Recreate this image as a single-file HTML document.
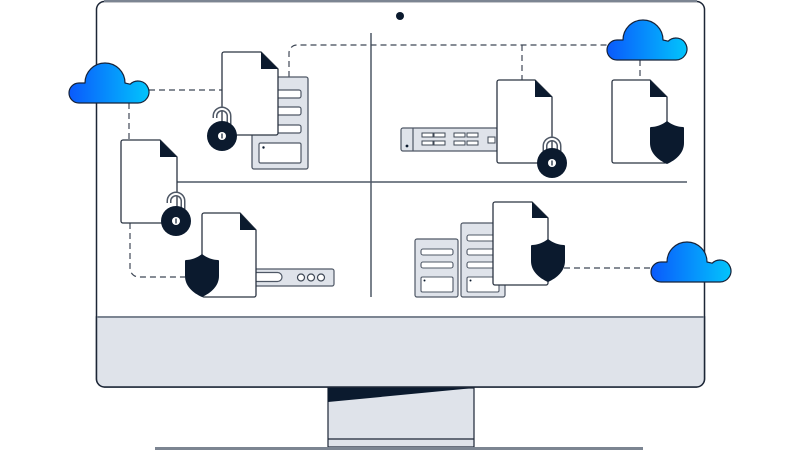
<!DOCTYPE html>
<html><head><meta charset="utf-8"><style>
html,body{margin:0;padding:0;background:#fff;width:800px;height:450px;overflow:hidden}
svg{display:block}
</style></head><body>
<svg width="800" height="450" viewBox="0 0 800 450" xmlns="http://www.w3.org/2000/svg">
<defs>
<linearGradient id="cg" x1="0" y1="0" x2="1" y2="0">
<stop offset="0" stop-color="#0a5afc"/><stop offset="1" stop-color="#02c4fc"/>
</linearGradient>
<path id="cloud" d="M10,41 A10,10 0 0 1 10,21 L16,21 A20,20 0 0 1 56,21 L61.2,22.2 A11,11 0 1 1 69,41 Z"/>
<path id="shield" d="M17,0 C12,4 6,6 1,6 Q0,6 0,7 L0,22 C0,32 8,39 17,43 C26,39 34,32 34,22 L34,7 Q34,6 33,6 C28,6 22,4 17,0 Z"/>
</defs>

<!-- monitor -->
<rect x="96.5" y="1.5" width="608" height="385.5" rx="8" fill="#fff" stroke="#1c2636" stroke-width="1.5"/>
<path d="M96.5,317 H704.5 V379 A8,8 0 0 1 696.5,387 H104.5 A8,8 0 0 1 96.5,379 Z" fill="#dfe3ea" stroke="#1c2636" stroke-width="1.5"/>
<line x1="97" y1="317" x2="704" y2="317" stroke="#7c8592" stroke-width="2"/>
<line x1="104" y1="1" x2="697" y2="1" stroke="#7c8592" stroke-width="2"/>
<circle cx="400" cy="16" r="4" fill="#0b1a2e"/>

<!-- stand -->
<rect x="328" y="388" width="146" height="59" fill="#dfe3ea" stroke="#1c2636" stroke-width="1.2"/>
<polygon points="328,388 474,388 328,402" fill="#0b1a2e"/>
<line x1="328" y1="439" x2="474" y2="439" stroke="#1c2636" stroke-width="1.2"/>
<rect x="155" y="447" width="488" height="3" fill="#7c8592"/>

<!-- dividers -->
<line x1="371" y1="33" x2="371" y2="297" stroke="#4f5866" stroke-width="1.5"/>
<line x1="176" y1="182" x2="687" y2="182" stroke="#4f5866" stroke-width="1.5"/>

<!-- dashed connectors -->
<g fill="none" stroke="#3f4856" stroke-width="1.2" stroke-dasharray="6,4">
<path d="M149,90 H222"/>
<path d="M129,103 V140"/>
<path d="M289,77 V53 A8,8 0 0 1 297,45 H607"/>
<path d="M522,45 V80"/>
<path d="M640,60 V80"/>
<path d="M130,223 V268 A9,9 0 0 0 139,277 H185"/>
<path d="M564,268 H651"/>
</g>

<!-- top-left rack -->
<rect x="252" y="77" width="56" height="92" rx="2" fill="#dfe3ea" stroke="#4f5866" stroke-width="1.3"/>
<g fill="#fff" stroke="#4f5866" stroke-width="1.2">
<rect x="259" y="90" width="42" height="8" rx="2"/>
<rect x="259" y="107" width="42" height="8" rx="2"/>
<rect x="259" y="125" width="42" height="8" rx="2"/>
<rect x="259" y="143" width="42" height="20" rx="1.5"/>
</g>
<circle cx="263.5" cy="147.5" r="1.2" fill="#0b1a2e"/>

<!-- top-right switch -->
<rect x="401" y="128" width="97" height="23" rx="2" fill="#dfe3ea" stroke="#4f5866" stroke-width="1.2"/>
<line x1="413" y1="128" x2="413" y2="151" stroke="#4f5866" stroke-width="1.2"/>
<circle cx="407" cy="146" r="1.4" fill="#0b1a2e"/>
<g fill="#fff" stroke="#3f4856" stroke-width="1">
<rect x="422" y="133" width="11" height="4"/><rect x="434" y="133" width="11" height="4"/>
<rect x="454" y="133" width="11" height="4"/><rect x="467" y="133" width="11" height="4"/>
<rect x="422" y="141" width="11" height="4"/><rect x="434" y="141" width="11" height="4"/>
<rect x="454" y="141" width="11" height="4"/><rect x="467" y="141" width="11" height="4"/>
<rect x="488" y="137" width="7" height="6"/>
</g>

<!-- bottom-left bar -->
<rect x="240" y="269" width="94" height="17" rx="2" fill="#dfe3ea" stroke="#4f5866" stroke-width="1.2"/>
<rect x="240" y="272.5" width="42" height="9" rx="4.5" fill="#fff" stroke="#4f5866" stroke-width="1.2"/>
<g fill="#fff" stroke="#3f4856" stroke-width="1.2">
<circle cx="301" cy="277.5" r="3.5"/><circle cx="311" cy="277.5" r="3.5"/><circle cx="321" cy="277.5" r="3.5"/>
</g>

<!-- bottom-right racks -->
<rect x="415" y="239" width="43" height="58" rx="2" fill="#dfe3ea" stroke="#4f5866" stroke-width="1.2"/>
<g fill="#fff" stroke="#4f5866" stroke-width="1.1">
<rect x="421" y="249" width="32" height="6" rx="2"/>
<rect x="421" y="262" width="32" height="6" rx="2"/>
<rect x="421" y="277" width="32" height="15" rx="1.5"/>
</g>
<circle cx="424.5" cy="280.5" r="1" fill="#0b1a2e"/>
<rect x="461" y="223" width="44" height="74" rx="2" fill="#dfe3ea" stroke="#4f5866" stroke-width="1.2"/>
<g fill="#fff" stroke="#4f5866" stroke-width="1.1">
<rect x="467" y="235" width="32" height="6" rx="2"/>
<rect x="467" y="249" width="32" height="6" rx="2"/>
<rect x="467" y="262" width="32" height="6" rx="2"/>
<rect x="467" y="277" width="32" height="15" rx="1.5"/>
</g>
<circle cx="470.5" cy="280.5" r="1" fill="#0b1a2e"/>

<!-- documents -->
<g stroke="#2b3442" stroke-width="1.3" fill="#fff" stroke-linejoin="round">
<path d="M224,52 H261 L278,69 V133 A2,2 0 0 1 276,135 H224 A2,2 0 0 1 222,133 V54 A2,2 0 0 1 224,52 Z"/>
<path d="M123,140 H160 L177,157 V221 A2,2 0 0 1 175,223 H123 A2,2 0 0 1 121,221 V142 A2,2 0 0 1 123,140 Z"/>
<path d="M204,213 H240 L256,230 V295 A2,2 0 0 1 254,297 H204 A2,2 0 0 1 202,295 V215 A2,2 0 0 1 204,213 Z"/>
<path d="M499,80 H535 L552,97 V161 A2,2 0 0 1 550,163 H499 A2,2 0 0 1 497,161 V82 A2,2 0 0 1 499,80 Z"/>
<path d="M614,80 H650 L667,97 V161 A2,2 0 0 1 665,163 H614 A2,2 0 0 1 612,161 V82 A2,2 0 0 1 614,80 Z"/>
<path d="M495,202 H532 L548,218 V283 A2,2 0 0 1 546,285 H495 A2,2 0 0 1 493,283 V204 A2,2 0 0 1 495,202 Z"/>
</g>
<g fill="#0b1a2e">
<polygon points="261,52 261,69 278,69"/>
<polygon points="160,140 160,157 177,157"/>
<polygon points="240,213 240,230 256,230"/>
<polygon points="535,80 535,97 552,97"/>
<polygon points="650,80 650,97 667,97"/>
<polygon points="532,202 532,218 548,218"/>
</g>

<!-- shields -->
<g fill="#0b1a2e">
<use href="#shield" x="185" y="254"/>
<use href="#shield" x="650" y="121"/>
<use href="#shield" x="531" y="239"/>
</g>

<!-- locks -->
<g fill="none" stroke-linecap="butt">
<path d="M215,118 V116 A7,7 0 0 1 229,116 V126" stroke="#4f5866" stroke-width="5"/>
<path d="M215,118.5 V116 A7,7 0 0 1 229,116 V126" stroke="#fff" stroke-width="2"/>
<path d="M169,203 V201 A7,7 0 0 1 183,201 V211" stroke="#4f5866" stroke-width="5"/>
<path d="M169,203.5 V201 A7,7 0 0 1 183,201 V211" stroke="#fff" stroke-width="2"/>
<path d="M545,155 V146 A7,7 0 0 1 559,146 V155" stroke="#4f5866" stroke-width="5"/>
<path d="M545,155 V146 A7,7 0 0 1 559,146 V155" stroke="#fff" stroke-width="2"/>
</g>
<g fill="#0b1a2e">
<circle cx="222" cy="136" r="15"/>
<circle cx="176" cy="221" r="15"/>
<circle cx="552" cy="163" r="15"/>
</g>
<g fill="#fff">
<circle cx="222" cy="136" r="4"/>
<circle cx="176" cy="221" r="4"/>
<circle cx="552" cy="163" r="4"/>
</g>
<g fill="#0b1a2e">
<rect x="221.4" y="133.5" width="1.2" height="5"/>
<rect x="175.4" y="218.5" width="1.2" height="5"/>
<rect x="551.4" y="160.5" width="1.2" height="5"/>
</g>

<!-- clouds -->
<g fill="url(#cg)" stroke="#16233a" stroke-width="1.2" stroke-linejoin="round">
<use href="#cloud" x="69" y="62"/>
<use href="#cloud" x="607" y="19"/>
<use href="#cloud" x="651" y="241"/>
</g>
</svg>
</body></html>
